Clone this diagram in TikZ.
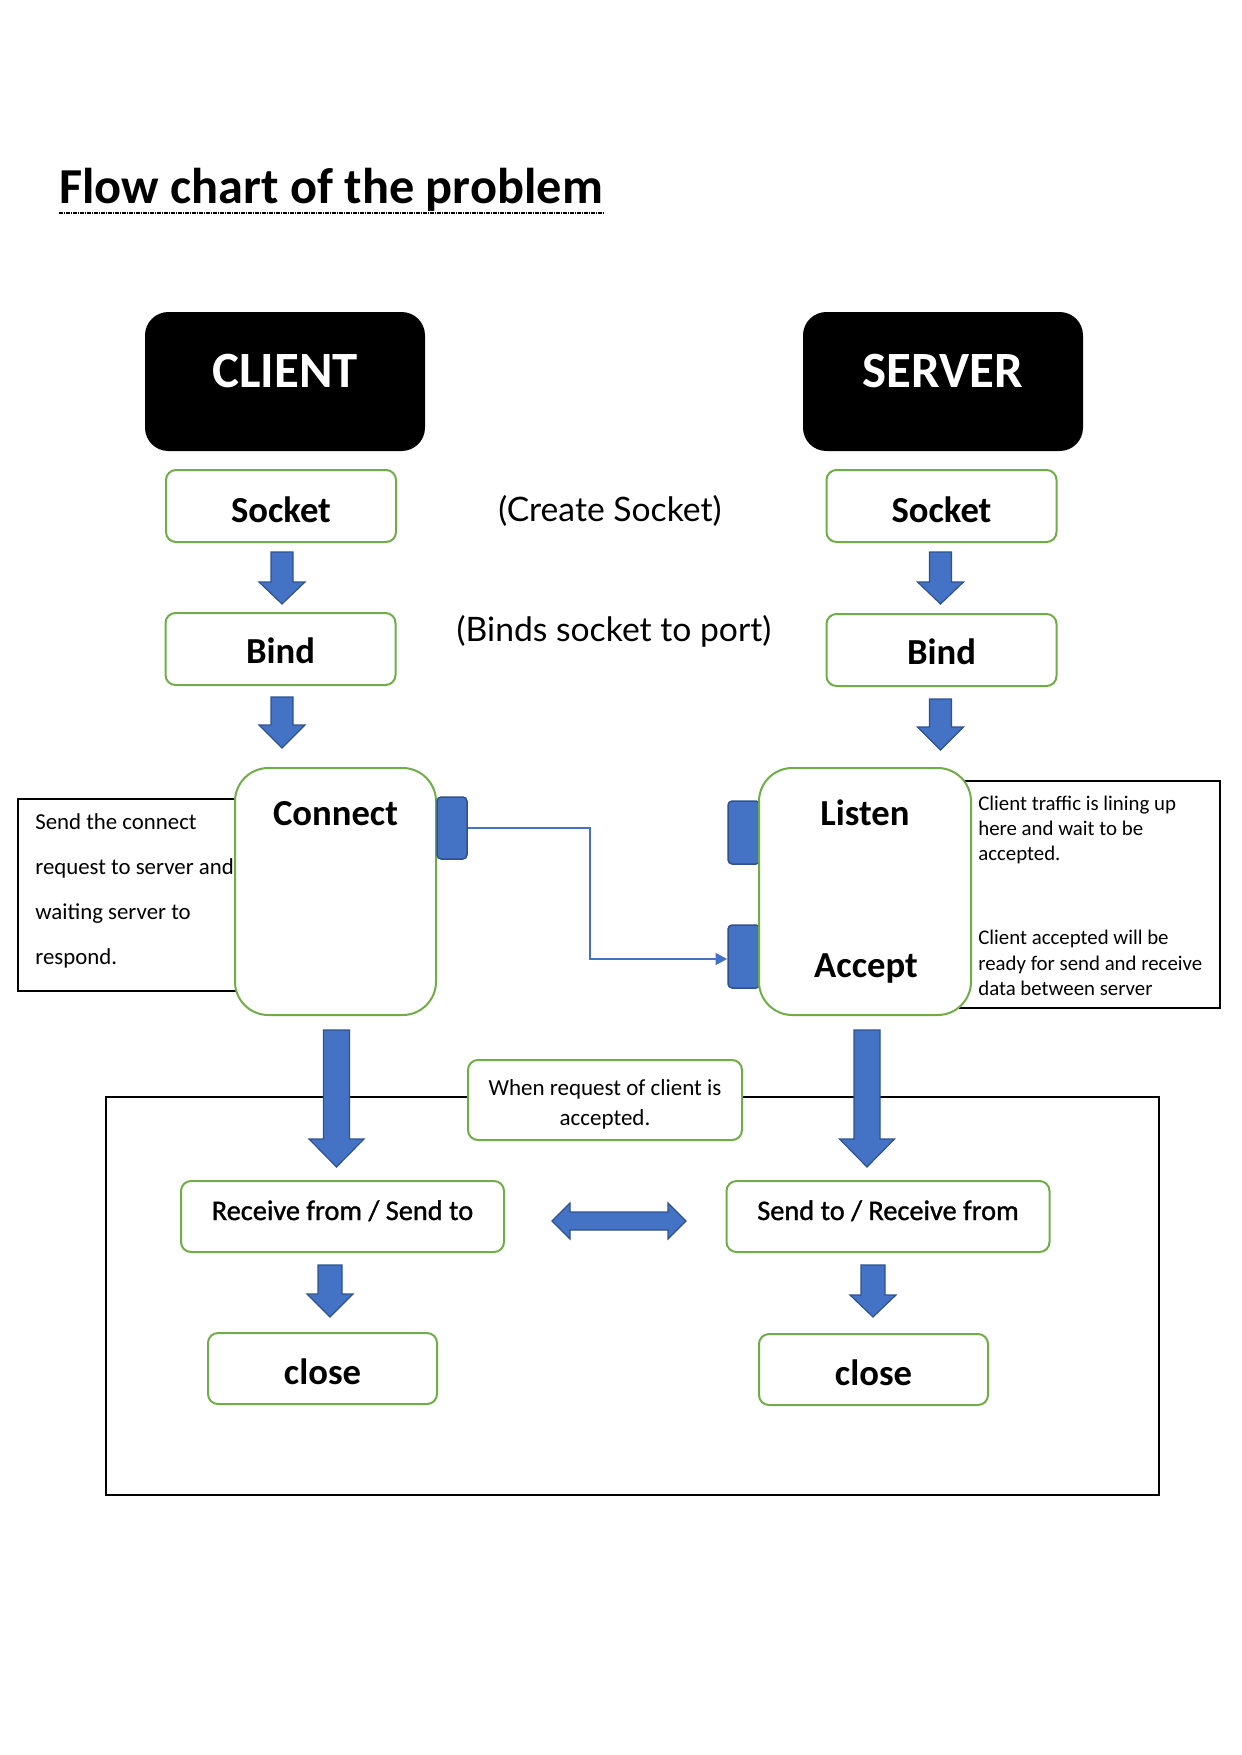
\documentclass[tikz,border=0pt]{standalone}
\usepackage{fontspec}
\setmainfont{Carlito}
\newfontfamily\latofont{Lato}
\newfontfamily\semibfont[FakeBold=1.2]{Carlito}
\usetikzlibrary{arrows.meta}
\definecolor{gbord}{HTML}{70AD47}
\definecolor{bfill}{HTML}{4472C4}
\definecolor{bline}{HTML}{2F528F}
\newcommand\blkdown[6]{%
  \filldraw[blk] (#1-#5,#2) -- (#1+#5,#2) -- (#1+#5,#3) -- (#1+#6,#3) -- (#1,#4) -- (#1-#6,#3) -- (#1-#5,#3) -- cycle;}
\begin{document}
\begin{tikzpicture}[x=0.6pt,y=-0.6pt,
  blk/.style={fill=bfill, draw=bline, line width=0.7pt, line join=miter},
  hdr/.style={fill=black, rounded corners=14pt, inner sep=0pt, minimum width=168pt, minimum height=83.4pt},
  hdrtext/.style={text=white, font=\bfseries\fontsize{30.5}{36}\selectfont, inner sep=0pt},
  gbox/.style={draw=gbord, line width=1.2pt, fill=white, rounded corners=6pt, inner sep=0pt},
  stepbox/.style={gbox, minimum width=138pt, minimum height=43.2pt},
  bigbox/.style={gbox, rounded corners=20pt},
  bigtext/.style={font=\bfseries\fontsize{22}{26}\selectfont, inner sep=0pt},
  tab/.style={fill=bfill, draw=bline, line width=0.9pt, rounded corners=2.5pt, inner sep=0pt},
  note/.style={draw=black, line width=0.9pt, fill=white, inner sep=0pt},
  paren/.style={font=\latofont\fontsize{20.2}{24}\selectfont, inner sep=0pt},
  conn/.style={draw=bfill, line width=1.5pt, -{Triangle[length=7pt,width=7pt]}},
  rsbox/.style={gbox, minimum width=193.8pt, minimum height=42.6pt},
  rstext/.style={font=\semibfont\fontsize{17}{20}\selectfont, inner sep=0pt},
  closebox/.style={gbox, minimum width=137.4pt, minimum height=42.6pt}
]
\fill[white] (0,0) rectangle (1241,1755);
\useasboundingbox (0,0) rectangle (1241,1755);

% title
\node[anchor=base west, inner sep=0pt, font=\bfseries\fontsize{30.2}{36}\selectfont] (title) at (59,203) {Flow chart of the problem};
\draw[line width=1.3pt, dash pattern=on 2.4pt off 0.6pt on 0.6pt off 0.6pt] (title.base west) ++(0,10) coordinate (ul1) -- ++(545,0) coordinate (ul2);

% headers
\node[hdr] (client) at (285,381.5) {};
\node[hdrtext, anchor=base] (clientT) at (285,387) {CLIENT};
\node[hdr] (server) at (943,381.5) {};
\node[hdrtext, anchor=base] (serverT) at (943,387) {SERVER};

% client column
\node[stepbox] (csock) at (281,506) {};
\node[bigtext, anchor=base] (csockT) at (281,522) {Socket};
\node[stepbox] (cbind) at (280.5,649) {};
\node[bigtext, anchor=base] (cbindT) at (280.5,663) {Bind};
\blkdown{282}{552}{582}{604}{11}{23}
\blkdown{282}{697}{725}{748}{11}{23}

% server column
\node[stepbox] (ssock) at (941.5,506) {};
\node[bigtext, anchor=base] (ssockT) at (941.5,522) {Socket};
\node[stepbox] (sbind) at (941.5,650) {};
\node[bigtext, anchor=base] (sbindT) at (941.5,664) {Bind};
\blkdown{940.5}{552}{582}{604}{11}{23}
\blkdown{940.5}{699}{727}{750}{11}{23}

% middle notes
\node[paren] (createT) at (610,510.5) {(Create Socket)};
\node[paren] (bindsT) at (614,631.5) {(Binds socket to port)};

% left note
\node[note, anchor=north west, minimum width=134pt, minimum height=115.2pt] (lnote) at (17,798) {};
\node[anchor=north west, align=left, inner sep=0pt, font=\fontsize{13.7}{27}\selectfont] (lnoteT) at (35,813.5)
  {Send the connect\\request to server and\\waiting server to\\respond.};

% right note
\node[note, anchor=north west, minimum width=156pt, minimum height=136.2pt] (rnote) at (959,780) {};
\node[anchor=north west, align=left, inner sep=0pt, font=\fontsize{12.5}{15.2}\selectfont] (rnoteA) at (978,795.5)
  {Client traffic is lining up\\here and wait to be\\accepted.};
\node[anchor=north west, align=left, inner sep=0pt, font=\fontsize{12.5}{15.2}\selectfont] (rnoteB) at (978,930)
  {Client accepted will be\\ready for send and receive\\data between server};

% listen tabs (behind)
\node[tab, minimum width=19.2pt, minimum height=37.8pt] (ltabA) at (744,832.5) {};
\node[tab, minimum width=19.2pt, minimum height=37.8pt] (ltabB) at (744,956.5) {};

% connect / listen boxes
\node[bigbox, minimum width=120.6pt, minimum height=148.2pt] (connect) at (335.5,891.5) {};
\node[bigtext, anchor=base] (connectT) at (335.5,825) {Connect};
\node[bigbox, minimum width=127.2pt, minimum height=148.2pt] (listen) at (865,891.5) {};
\node[bigtext, anchor=base] (listenT) at (865,825) {Listen};
\node[bigtext, anchor=base] (acceptT) at (866,977) {Accept};

\node[tab, minimum width=18pt, minimum height=37.2pt] (ctab) at (452,828) {};
\draw[conn] (ctab.east) -- ++(122,0) |- ([yshift=-1.5pt]ltabB.west);

% bottom frame
\draw[line width=1.2pt] (106,1097) rectangle (1159,1495);
\node[gbox, minimum width=164.4pt, minimum height=48pt] (when) at (605,1100) {};
\node[align=center, inner sep=0pt, font=\fontsize{13.8}{17.6}\selectfont] (whenT) at (605,1104.5)
  {When request of client is\\accepted.};

\blkdown{336.5}{1030}{1139}{1167}{13}{27.5}
\blkdown{867}{1030}{1139}{1167}{13}{27.5}

\node[rsbox] (crs) at (342.5,1216.5) {};
\node[rstext, anchor=base] (crsT) at (342.5,1220) {Receive from / Send to};
\node[rsbox] (srs) at (888,1216.5) {};
\node[rstext, anchor=base] (srsT) at (888,1220) {Send to / Receive from};

\filldraw[blk] (552,1221) -- (570,1203) -- (570,1212) -- (668,1212) -- (668,1203) -- (686,1221) -- (668,1239) -- (668,1230) -- (570,1230) -- (570,1239) -- cycle;

\blkdown{330}{1265}{1294}{1317}{12}{23}
\blkdown{873}{1265}{1295}{1317}{12}{23}

\node[closebox] (cclose) at (322.5,1368.5) {};
\node[bigtext, anchor=base] (ccloseT) at (322.5,1384) {close};
\node[closebox] (sclose) at (873.5,1369.5) {};
\node[bigtext, anchor=base] (scloseT) at (873.5,1385) {close};
\end{tikzpicture}
\end{document}
